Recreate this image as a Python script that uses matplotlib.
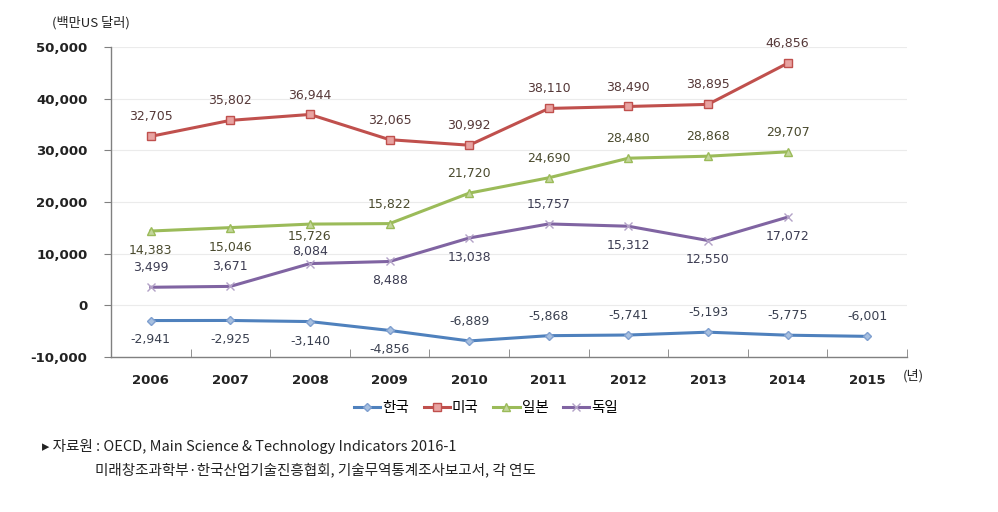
import matplotlib
matplotlib.use("Agg")
import matplotlib.pyplot as plt
from matplotlib.ticker import FuncFormatter, FixedLocator

plt.rcParams['font.family'] = ['Noto Sans CJK KR', 'DejaVu Sans']

years = ['2006', '2007', '2008', '2009', '2010', '2011', '2012', '2013', '2014', '2015']
korea = [-2941, -2925, -3140, -4856, -6889, -5868, -5741, -5193, -5775, -6001]
usa = [32705, 35802, 36944, 32065, 30992, 38110, 38490, 38895, 46856]
japan = [14383, 15046, 15726, 15822, 21720, 24690, 28480, 28868, 29707]
germany = [3499, 3671, 8084, 8488, 13038, 15757, 15312, 12550, 17072]
series_names = ['한국', '미국', '일본', '독일']

# label placement: signed offset in points (+ above, - below)
korea_pos = [-14, -14, -14, -14, 14, 14, 14, 14, 14, 14]
usa_pos = [14] * 9
japan_pos = [-14, -14, -9, 14, 14, 14, 14, 14, 14]
germany_pos = [14, 14, 9, -14, -14, 14, -14, -14, -14]

fig = plt.figure(figsize=(9.98, 5.12), dpi=100)
ax = fig.add_axes([0.1112, 0.3027, 0.7976, 0.6055])

styles = [
    (korea, korea_pos, '#4F81BD', 'D', '#A7C0E0', '#7F9FCF', 4.5, '#3A4050'),
    (usa, usa_pos, '#C0504D', 's', '#E8A3A1', '#C0504D', 6, '#553838'),
    (japan, japan_pos, '#9BBB59', '^', '#C3D69B', '#9BBB59', 6, '#4A4A2E'),
    (germany, germany_pos, '#8064A2', 'x', '#B3A2C7', '#B3A2C7', 6, '#3C3C52'),
]

for (vals, pos, col, mk, mfc, mec, ms, tcol), name in zip(styles, series_names):
    xs = list(range(len(vals)))
    ax.plot(xs, vals, color=col, lw=2.2, marker=mk, markersize=ms,
            markerfacecolor=mfc, markeredgecolor=mec, markeredgewidth=1.0,
            label=name, zorder=3)
    for x, v, p in zip(xs, vals, pos):
        ax.annotate(f'{v:,}', (x, v), xytext=(0, p), textcoords='offset points',
                    ha='center', va='center', fontsize=9, color=tcol,
                    family=['DejaVu Sans'], zorder=4)

ax.set_xlim(-0.5, 9.5)
ax.set_ylim(-10000, 50000)
ax.set_yticks(range(-10000, 50001, 10000))
ax.yaxis.set_major_formatter(FuncFormatter(lambda v, p: f'{int(v):,}'))
ax.set_xticks(range(len(years)))
ax.set_xticklabels(years)
ax.xaxis.set_minor_locator(FixedLocator([i - 0.5 for i in range(len(years) + 1)]))
ax.tick_params(axis='x', which='major', length=0, pad=12, labelsize=9.5, labelcolor='#222222')
ax.tick_params(axis='x', which='minor', length=6, direction='in', color='#808080')
ax.tick_params(axis='y', length=5, direction='out', color='#808080', labelsize=9.5,
               labelcolor='#222222', pad=12)
for lab in ax.get_xticklabels() + ax.get_yticklabels():
    lab.set_fontweight('bold')
    lab.set_family(['DejaVu Sans'])

for s in ['top', 'right']:
    ax.spines[s].set_visible(False)
for s in ['left', 'bottom']:
    ax.spines[s].set_color('#808080')
    ax.spines[s].set_linewidth(1.0)
ax.grid(axis='y', color='#EBEBEB', lw=0.8, zorder=0)
ax.set_axisbelow(True)

fig.text(0.052, 0.955, '(백만US 달러)', fontsize=9.5, color='#222222', va='center', ha='left')
fig.text(0.905, 0.266, '(년)', fontsize=9.5, color='#222222', va='center', ha='left')

fig.legend(loc='center', bbox_to_anchor=(0.487, 0.203), ncol=4, frameon=False,
           fontsize=10.5, handlelength=1.8, handletextpad=0.15, columnspacing=1.0)

fig.text(0.042, 0.128, '▸ 자료원 : OECD, Main Science & Technology Indicators 2016-1',
         fontsize=10.5, color='#222222', va='center', ha='left')
fig.text(0.095, 0.082, '미래창조과학부·한국산업기술진흥협회, 기술무역통계조사보고서, 각 연도',
         fontsize=10.5, color='#222222', va='center', ha='left')

fig.savefig('out.png', dpi=100)
